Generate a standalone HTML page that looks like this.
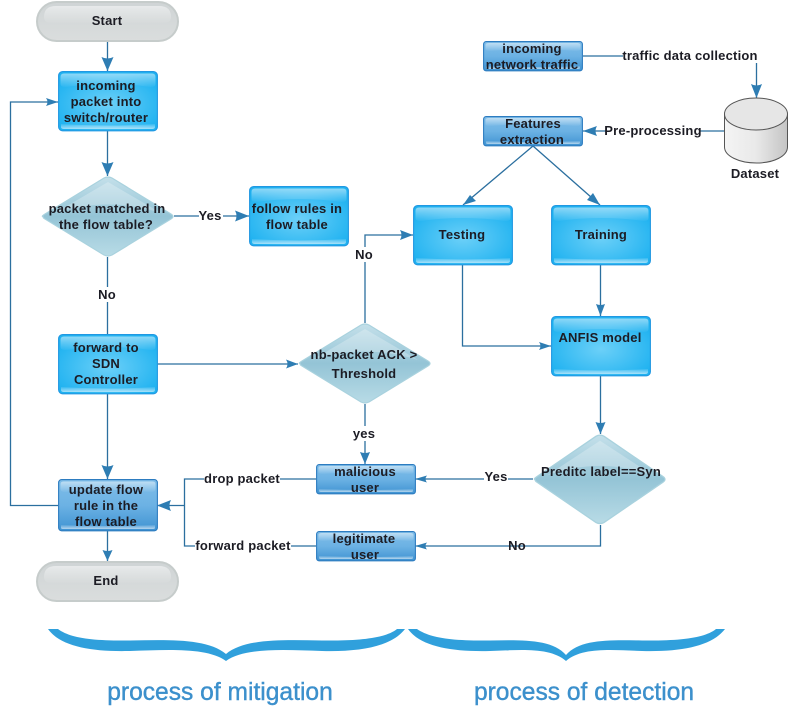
<!DOCTYPE html>
<html><head><meta charset="utf-8"><style>
html,body{margin:0;padding:0;background:#fff}
svg{display:block}
text{font-family:"Liberation Sans",sans-serif;font-size:13px;font-weight:bold;fill:#1c1c24;text-anchor:middle;letter-spacing:.2px}
.l{fill:none;stroke:#2b6f9f;stroke-width:1.3}
.a{fill:#2e7db3}
.t{font-size:24.6px;font-weight:normal;fill:#3c90cc;letter-spacing:0;stroke:#3c90cc;stroke-width:.4}
.bg{fill:#fff;stroke:none}
</style></head><body>
<svg width="788" height="706" viewBox="0 0 788 706" xmlns="http://www.w3.org/2000/svg">
<defs>
<radialGradient id="bb" cx=".5" cy=".55" r=".6"><stop offset="0" stop-color="#6cd0f8"/><stop offset="1" stop-color="#1fb2f0"/></radialGradient>
<linearGradient id="db" x1="0" y1="0" x2="0" y2="1"><stop offset="0" stop-color="#7fbde8"/><stop offset=".5" stop-color="#6cb2e4"/><stop offset="1" stop-color="#3f93d2"/></linearGradient>
<linearGradient id="gl" x1="0" y1="0" x2="0" y2="1"><stop offset="0" stop-color="#fff" stop-opacity=".5"/><stop offset="1" stop-color="#fff" stop-opacity=".03"/></linearGradient>
<linearGradient id="gb" x1="0" y1="0" x2="0" y2="1"><stop offset="0" stop-color="#fff" stop-opacity=".1"/><stop offset="1" stop-color="#fff" stop-opacity=".6"/></linearGradient>
<linearGradient id="dm" x1="0" y1="0" x2="0" y2="1"><stop offset="0" stop-color="#c4e0ea"/><stop offset=".5" stop-color="#94c4d6"/><stop offset="1" stop-color="#b8dbe6"/></linearGradient>
<linearGradient id="pl" x1="0" y1="0" x2="0" y2="1"><stop offset="0" stop-color="#cfd4d5"/><stop offset="1" stop-color="#dadddd"/></linearGradient>
<linearGradient id="cy" x1="0" y1="0" x2="1" y2="0"><stop offset="0" stop-color="#f4f4f4"/><stop offset=".5" stop-color="#e9e9e9"/><stop offset="1" stop-color="#c4c4c4"/></linearGradient>
<g id="B60"><rect x=".6" y=".6" width="98.800" height="59.200" rx="4" fill="url(#bb)" stroke="#2198e2" stroke-width="1.1"/><path d="M2.500 6q0-3.500 3.500-3.500h88q3.500 0 3.500 3.500v7q0 3-5 3-20-3-42.500-3t-42.500 3q-5 0-5-3z" fill="url(#gl)"/><path d="M3 53q47 3 94 0v3q0 2-3 2H6q-3 0-3-2z" fill="url(#gb)"/></g>
<g id="D52"><rect x=".6" y=".6" width="98.800" height="51.200" rx="3" fill="url(#db)" stroke="#2d7cc0" stroke-width="1.1"/><path d="M2.500 5q0-2.500 3.500-2.500h88q3.500 0 3.500 2.500v5q0 3-5 3-20-2-42.500-2t-42.500 2q-5 0-5-3z" fill="url(#gl)"/><path d="M3 46q47 2 94 0v3q0 1-3 1H6q-3 0-3-1z" fill="url(#gb)"/></g>
<g id="D30"><rect x=".6" y=".6" width="98.800" height="29.200" rx="2.500" fill="url(#db)" stroke="#2d7cc0" stroke-width="1.1"/><path d="M2.500 4q0-2 3.500-2h88q3.500 0 3.500 2v4q0 2-5 2-20-2-42.500-2t-42.500 2q-5 0-5-2z" fill="url(#gl)"/><path d="M3 25q47 2 94 0v2q0 1-3 1H6q-3 0-3-1z" fill="url(#gb)"/></g>
<g id="P"><rect x="1" y="1" width="141" height="39" rx="19.500" fill="url(#pl)" stroke="#c6cccb" stroke-width="2"/><path d="M8 16q0-11 12-11h103q12 0 12 11 0 6-8 6H16q-8 0-8-6z" fill="url(#gl)"/></g>
<g id="M"><path d="M2 40.500Q0 40.500 4 38L63 2q4-2 8 0l59 36q4 2.500 0 5L71 79q-4 2-8 0L4 43q-2-1-2-2.500z" fill="url(#dm)" stroke="#a9d2de" stroke-width="1.200"/><path d="M14 37L67 6l53 31Q67 20 14 37z" fill="#fff" opacity=".25"/></g>
</defs>

<!-- connectors -->
<path class="l" d="M107.500 41V71M107.500 131V176M174 216H249M107.500 257V334M157 364H298M107.500 394V479M107.500 531V561"/>
<path class="l" d="M58 505.500H10.500V102H58"/>
<path class="l" d="M365 323V235H413M365 404V464"/>
<path class="l" d="M583 56H756.500V98M724 131H583"/>
<path class="l" d="M533 146L463 205M533 146L600 205M462.500 265V346H551M600.500 265V316M600.500 375V434"/>
<path class="l" d="M533 479H415M600.500 525V546H415"/>
<path class="l" d="M316 479H184.500V505.500H157M316 546H184.500V505.500"/>

<!-- arrowheads -->
<g class="a">
<path d="M107.500 71L101.500 57Q107.500 60 113.500 57z"/>
<path d="M107.500 176L101.500 162Q107.500 165 113.500 162z"/>
<path d="M249 216L235 210.500Q238 216 235 221.500z"/>
<path d="M58 102L46 98Q49 102 46 106z"/>
<path d="M107.500 479L101.500 465Q107.500 468 113.500 465z"/>
<path d="M107.500 561L102.500 550Q107.500 552 112.500 550z"/>
<path d="M298 364L286 359.500Q289 364 286 368.500z"/>
<path d="M413 235L400 230Q403 235 400 240z"/>
<path d="M365 464L360 452Q365 454 370 452z"/>
<path d="M756.500 98L751 84Q756.500 87 762 84z"/>
<path d="M583 131L597 126Q594 131 597 136z"/>
<path d="M463 205L470 195 476 201z"/>
<path d="M600 205L587 200 593 193z"/>
<path d="M551 346L539 342Q542 346 539 350z"/>
<path d="M600.500 316L596 304Q600.500 306 605 304z"/>
<path d="M600.500 434L595.500 422Q600.500 424 605.500 422z"/>
<path d="M415 479L427 475.500Q424 479 427 482.500z"/>
<path d="M415 546L427 542.500Q424 546 427 549.500z"/>
<path d="M157 505.500L171 500Q168 505.500 171 511z"/>
</g>

<!-- label backgrounds -->
<rect class="bg" x="199" y="207" width="24" height="16"/>
<rect class="bg" x="97" y="287" width="20" height="15"/>
<rect class="bg" x="354" y="247" width="21" height="15"/>
<rect class="bg" x="352" y="426" width="25" height="15"/>
<rect class="bg" x="623" y="48" width="135" height="15"/>
<rect class="bg" x="606" y="124" width="94" height="15"/>
<rect class="bg" x="484" y="470" width="24" height="15"/>
<rect class="bg" x="204" y="472" width="76" height="15"/>
<rect class="bg" x="195" y="539" width="96" height="15"/>

<!-- nodes -->
<use href="#P" x="36" y="1"/>
<use href="#P" x="36" y="561"/>
<use href="#B60" x="58" y="71"/>
<use href="#B60" x="249" y="186"/>
<use href="#B60" x="58" y="334"/>
<use href="#B60" x="413" y="205"/>
<use href="#B60" x="551" y="205"/>
<use href="#B60" x="551" y="316"/>
<use href="#D52" x="58" y="479"/>
<use href="#D30" x="316" y="464"/>
<use href="#D30" x="316" y="531"/>
<use href="#D30" x="483" y="41"/>
<use href="#D30" x="483" y="116"/>
<use href="#M" x="41" y="176"/>
<use href="#M" x="298" y="323"/>
<g transform="translate(533 434) scale(1 1.12)"><use href="#M"/></g>

<!-- cylinder -->
<path d="M724.500 114V147C724.500 156 739 163 756.500 163S787.500 156 787.500 147V114z" fill="url(#cy)" stroke="#555" stroke-width="1"/>
<ellipse cx="756" cy="114" rx="31.500" ry="16" fill="#e6e6e6" stroke="#555" stroke-width="1"/>

<!-- node text -->
<text x="107" y="25">Start</text>
<text x="106" y="90">incoming</text>
<text x="106" y="106">packet into</text>
<text x="106" y="122">switch/router</text>
<text x="107" y="213">packet matched in</text>
<text x="106" y="229">the flow table?</text>
<text x="297" y="213">follow rules in</text>
<text x="297" y="229">flow table</text>
<text x="106" y="352">forward to</text>
<text x="106" y="368">SDN</text>
<text x="106" y="384">Controller</text>
<text x="106" y="494">update flow</text>
<text x="106" y="510">rule in the</text>
<text x="106" y="526">flow table</text>
<text x="106" y="585">End</text>
<text x="364" y="359">nb-packet ACK &gt;</text>
<text x="364" y="378">Threshold</text>
<text x="462" y="239">Testing</text>
<text x="601" y="239">Training</text>
<text x="600" y="342">ANFIS model</text>
<text x="601" y="476">Preditc label==Syn</text>
<text x="365" y="476">malicious</text>
<text x="365" y="492">user</text>
<text x="364" y="543">legitimate</text>
<text x="365" y="559">user</text>
<text x="532" y="53">incoming</text>
<text x="532" y="69">network traffic</text>
<text x="533" y="128">Features</text>
<text x="532" y="144">extraction</text>
<text x="755" y="178">Dataset</text>

<!-- connector labels -->
<text x="210" y="220">Yes</text>
<text x="107" y="299">No</text>
<text x="364" y="259">No</text>
<text x="364" y="438">yes</text>
<text x="690" y="60">traffic data collection</text>
<text x="653" y="135">Pre-processing</text>
<text x="496" y="481">Yes</text>
<text x="517" y="550">No</text>
<text x="242" y="483">drop packet</text>
<text x="243" y="550">forward packet</text>

<!-- braces -->
<path d="M48 629C60 646 90 652 130 651C165 650 207 647 226 661C245 647 287 650 322 651C362 652 392 646 405 629H397C386 638 360 641 322 640.500C285 640 245 638 226 654C207 638 167 640 130 640.500C92 641 70 638 58 629z" fill="#30a0dc"/>
<path d="M408 629C420 646 450 652 490 651C520 650 550 647 566 661C582 647 612 650 642 651C682 652 712 646 725 629H716C705 638 680 641 642 640.500C610 640 580 639 566 655C552 639 522 640 490 640.500C452 641 430 638 417 629z" fill="#30a0dc"/>

<text class="t" x="220" y="700">process of mitigation</text>
<text class="t" x="584" y="700">process of detection</text>
</svg>
</body></html>
